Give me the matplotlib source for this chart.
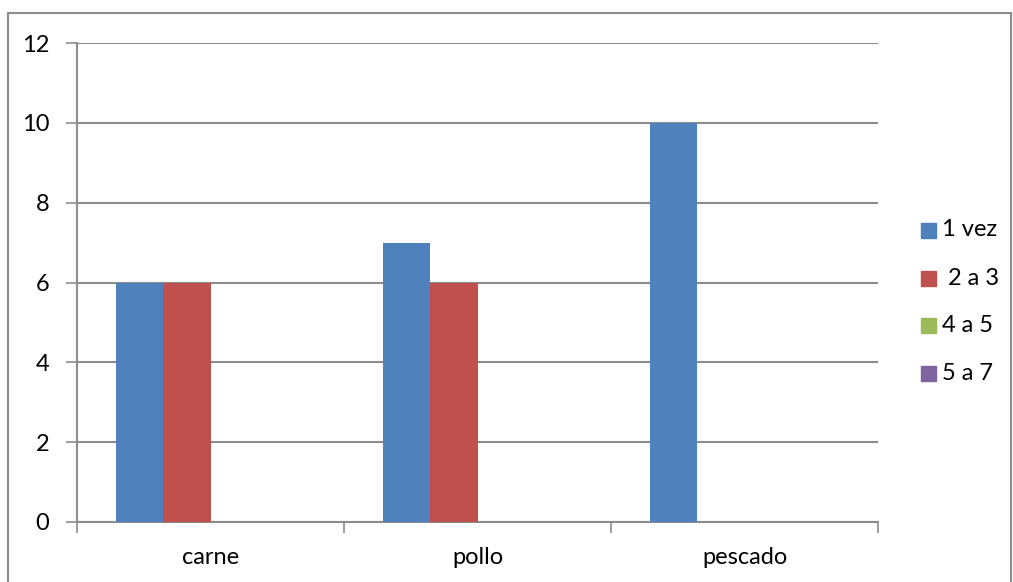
import numpy as np
import matplotlib.pyplot as plt
from matplotlib.patches import Rectangle

plt.rcParams['font.family'] = ['Lato', 'DejaVu Sans']

categorias = ['carne', 'pollo', 'pescado']
series = ['1 vez', ' 2 a 3', '4 a 5', '5 a 7']
v_1vez = [6, 7, 10]
v_2a3 = [6, 6, 0]
v_4a5 = [0, 0, 0]
v_5a7 = [0, 0, 0]
colores = ['#4F81BD', '#C0504D', '#9BBB59', '#8064A2']

fig = plt.figure(figsize=(10.13, 5.82), dpi=100)
ax = fig.add_axes([77/1013, 1-522/582, (878-77)/1013, (522-43)/582])

x = np.arange(len(categorias))
w = 0.1775
valores = [v_1vez, v_2a3, v_4a5, v_5a7]
for i, (v, c) in enumerate(zip(valores, colores)):
    ax.bar(x + (i-1.5)*w, v, w, color=c, zorder=3)

gris = '#8c8c8c'
fs = 17
ax.set_xlim(-0.5, 2.5)
ax.set_ylim(0, 12)
ax.set_yticks(range(0, 13, 2))
ax.yaxis.grid(True, color=gris, lw=1.5, zorder=0)
ax.set_xticks(x)
ax.set_xticklabels(categorias)
ax.set_xticks([-0.5, 0.5, 1.5, 2.5], minor=True)
ax.tick_params(axis='x', which='major', length=0, pad=18, labelsize=fs)
ax.tick_params(axis='x', which='minor', length=8, width=1.2, color=gris, direction='out')
ax.tick_params(axis='y', length=8, width=1.2, color=gris, pad=12, labelsize=fs)
for s in ['top', 'right']:
    ax.spines[s].set_visible(False)
for s in ['left', 'bottom']:
    ax.spines[s].set_color(gris)
    ax.spines[s].set_linewidth(1.5)

# leyenda dibujada a mano
ys = [230, 278, 325, 373]
for lab, c, yy in zip(series, colores, ys):
    fig.patches.append(Rectangle((921/1013, 1-(yy+7.5)/582), 15/1013, 15/582,
                                 transform=fig.transFigure, color=c))
    fig.text(942/1013, 1-yy/582, lab, fontsize=fs, va='center', ha='left')

# borde exterior
fig.patches.append(Rectangle((8/1013, -0.02), 1003/1013, 1.02-13/582,
                             transform=fig.transFigure, fill=False,
                             edgecolor=gris, lw=1.5))

fig.savefig('out.png', dpi=100)
